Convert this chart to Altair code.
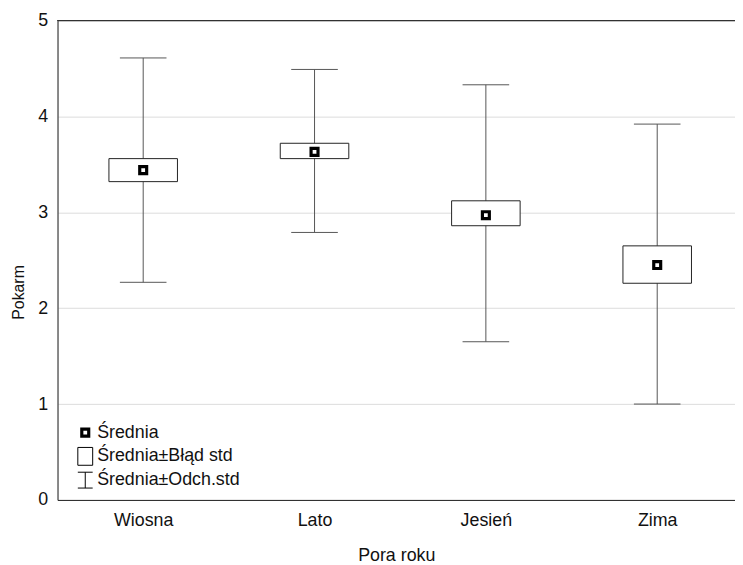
import altair as alt
import pandas as pd

seasons = ["Wiosna", "Lato", "Jesień", "Zima"]
positions = [1, 2, 3, 4]
means = [3.44, 3.63, 2.97, 2.45]
se_low = [3.32, 3.56, 2.86, 2.26]
se_high = [3.56, 3.72, 3.12, 2.65]
sd_low = [2.27, 2.79, 1.65, 1.00]
sd_high = [4.61, 4.49, 4.33, 3.92]
legend_labels = ["Średnia", "Średnia±Błąd std", "Średnia±Odch.std"]

FONT = "Liberation Sans"
FS = 18

df = pd.DataFrame({
    "season": seasons, "pos": positions, "mean": means,
    "se_lo": se_low, "se_hi": se_high, "sd_lo": sd_low, "sd_hi": sd_high,
})

label_expr = "{1:'Wiosna',2:'Lato',3:'Jesień',4:'Zima'}[datum.value] || ''"

x_scale = alt.Scale(domain=[0.5, 4.454], nice=False, zero=False)
y_scale = alt.Scale(domain=[0, 5], nice=False)

x_axis = alt.Axis(values=positions, labelExpr=label_expr, title="Pora roku",
                  grid=False, ticks=False, tickSize=0, labelPadding=12, titlePadding=17,
                  domainColor="#222222", labelFontSize=FS, titleFontSize=FS,
                  titleFontWeight="normal", labelColor="#111111", titleColor="#111111",
                  labelFont=FONT, titleFont=FONT)
y_axis = alt.Axis(values=[0, 1, 2, 3, 4, 5], format="d", title="Pokarm", grid=True,
                  gridColor="#dcdcdc", ticks=False, tickSize=0, labelPadding=10,
                  titlePadding=11, titleY=274, domainColor="#222222", labelFontSize=FS,
                  titleFontSize=16, titleFontWeight="normal", labelColor="#111111",
                  titleColor="#111111", labelFont=FONT, titleFont=FONT)

base = alt.Chart(df)

top_line = base.mark_rule(color="#333333", strokeWidth=1).encode(y=alt.datum(5, scale=y_scale))

whisker = base.mark_rule(color="#555555", strokeWidth=1).encode(
    x=alt.X("pos:Q", scale=x_scale, axis=x_axis),
    y=alt.Y("sd_lo:Q", scale=y_scale, axis=y_axis),
    y2="sd_hi:Q",
)

caps = base.transform_calculate(
    cl="datum.pos - 0.136", cr="datum.pos + 0.136"
)
cap_hi = caps.mark_rule(color="#555555", strokeWidth=1).encode(
    x=alt.X("cl:Q", scale=x_scale), x2="cr:Q", y=alt.Y("sd_hi:Q", scale=y_scale))
cap_lo = caps.mark_rule(color="#555555", strokeWidth=1).encode(
    x=alt.X("cl:Q", scale=x_scale), x2="cr:Q", y=alt.Y("sd_lo:Q", scale=y_scale))

box = base.transform_calculate(
    bl="datum.pos - 0.2", br="datum.pos + 0.2"
).mark_rect(fill="white", stroke="#222222", strokeWidth=1).encode(
    x=alt.X("bl:Q", scale=x_scale), x2="br:Q",
    y=alt.Y("se_lo:Q", scale=y_scale), y2="se_hi:Q",
)

p_mean = ("M-0.45,-0.45H0.45V0.45H-0.45Z"
          "M-0.35,-0.35H0.35V0.35H-0.35Z"
          "M-0.25,-0.25H0.25V0.25H-0.25Z")
p_box = "M-0.75,-0.9H0.75V0.9H-0.75Z"
p_whisk = "M-0.75,-0.8H0.75M0,-0.8V0.8M-0.75,0.8H0.75"

mean_pts = base.mark_point(shape=p_mean, filled=False, color="black", fill="white",
                           strokeWidth=1.2, size=400, opacity=1).encode(
    x=alt.X("pos:Q", scale=x_scale),
    y=alt.Y("mean:Q", scale=y_scale),
)

# manual legend (layout in pixels, inside the plot area)
leg_sym_x = 28
leg_text_x = 40
leg_rows_y = [416, 440, 464]
leg_paths = [p_mean, p_box, p_whisk]
leg_strokes = [1.2, 1.0, 1.0]
legend_layers = []
for lbl, yy, pth, sw in zip(legend_labels, leg_rows_y, leg_paths, leg_strokes):
    ld = alt.Chart(pd.DataFrame({"label": [lbl]}))
    legend_layers.append(
        ld.mark_point(shape=pth, filled=False, color="black", fill="white",
                      strokeWidth=sw, size=400, opacity=1).encode(
            x=alt.value(leg_sym_x), y=alt.value(yy)))
    legend_layers.append(
        ld.mark_text(align="left", baseline="middle", font=FONT, fontSize=FS,
                     color="#111111").encode(
            x=alt.value(leg_text_x), y=alt.value(yy), text="label:N"))

chart = alt.layer(top_line, whisker, cap_hi, cap_lo, box, mean_pts, *legend_layers).properties(
    width=684, height=484,
    autosize=alt.AutoSizeParams(type="none"),
    padding={"left": 50, "top": 10, "right": 0, "bottom": 62},
).configure_view(stroke=None).configure(background="white")

chart.save("out.html", embed_options={"renderer": "svg", "actions": False})
